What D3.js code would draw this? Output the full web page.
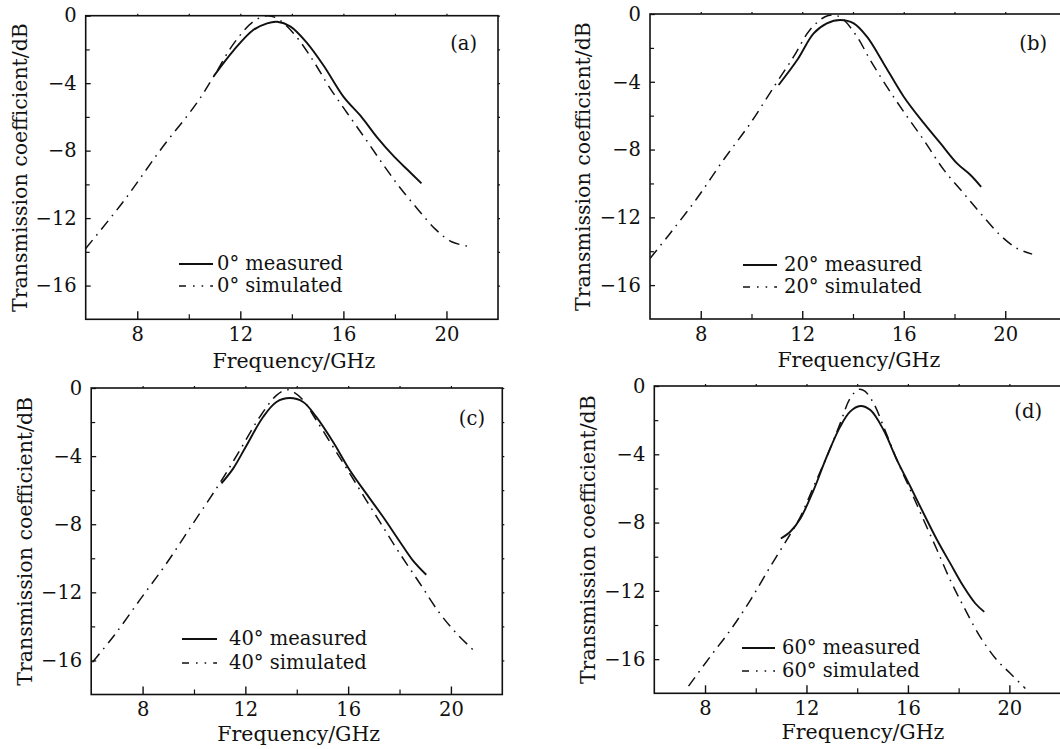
<!DOCTYPE html>
<html>
<head>
<meta charset="utf-8">
<script src="https://cdn.jsdelivr.net/npm/d3@7"></script>
<style>
  html, body { margin: 0; padding: 0; background: #fff; }
  svg { display: block; }
  text { font-family: "DejaVu Serif", "Liberation Serif", serif; fill: #111; }
</style>
</head>
<body>
<svg id="chart" width="1060" height="749"></svg>
<script>
// Transmission coefficient (dB) versus frequency (GHz) at four incidence angles.

const xTickValues = [8, 12, 16, 20];
const xMinorValues = [10, 14, 18];
const yTickValues = [0, -4, -8, -12, -16];
const yMinorValues = [-2, -6, -10, -14];
const angles = ["0°", "20°", "40°", "60°"];
const panelTags = ["(a)", "(b)", "(c)", "(d)"];

// 0 degrees
const sim0 = [[6,-13.8],[7.47,-11.0],[8.9,-7.96],[10.3,-5.2],[10.97,-3.6],[11.75,-1.64],[12.5,-0.36],[13.04,0],[13.43,-0.16],[14.07,-1.05],[14.8,-2.6],[15.44,-4.2],[16.16,-5.8],[16.9,-7.4],[17.6,-8.95],[18.2,-10.2],[18.9,-11.5],[19.6,-12.7],[20.2,-13.4],[20.93,-13.7]];
const meas0 = [[10.97,-3.58],[11.75,-2.04],[12.5,-0.85],[13.04,-0.45],[13.43,-0.36],[13.95,-0.65],[14.6,-1.64],[15.25,-3.0],[16.0,-4.8],[16.7,-6.0],[17.3,-7.2],[17.97,-8.36],[18.5,-9.15],[19.03,-9.94]];

// 20 degrees
const sim20 = [[6,-14.43],[6.79,-12.95],[7.84,-10.9],[8.9,-8.6],[9.95,-6.46],[10.93,-4.19],[11.66,-2.52],[12.3,-0.94],[12.9,-0.16],[13.24,-0.06],[13.57,-0.26],[14.16,-1.34],[14.68,-2.72],[15.34,-4.3],[16.0,-5.77],[16.79,-7.44],[17.58,-9.2],[18.37,-10.6],[19.03,-11.77],[19.8,-13.05],[20.47,-13.84],[21.06,-14.17]];
const meas20 = [[11.07,-4.19],[11.8,-2.72],[12.45,-1.14],[12.97,-0.55],[13.5,-0.35],[14.03,-0.55],[14.55,-1.34],[15.2,-2.9],[16.0,-4.88],[16.8,-6.46],[17.45,-7.64],[18.1,-8.82],[18.63,-9.5],[19.05,-10.2]];

// 40 degrees
const sim40 = [[6.05,-16.1],[6.87,-14.58],[7.9,-12.43],[8.94,-10.28],[9.97,-7.94],[11.0,-5.6],[11.79,-3.65],[12.56,-1.7],[13.21,-0.43],[13.6,-0.1],[13.86,-0.23],[14.25,-0.72],[14.76,-1.89],[15.41,-3.45],[16.06,-5.01],[16.7,-6.58],[17.35,-8.14],[18.0,-9.7],[18.78,-11.45],[19.55,-13.2],[20.2,-14.38],[20.85,-15.36]];
const meas40 = [[11.07,-5.6],[11.53,-4.72],[12.05,-3.36],[12.69,-1.7],[13.21,-0.82],[13.73,-0.59],[14.25,-0.82],[14.76,-1.7],[15.41,-3.16],[16.06,-4.82],[16.7,-6.19],[17.35,-7.55],[18.0,-9.0],[18.5,-10.09],[19.04,-10.97]];

// 60 degrees
const sim60 = [[7.35,-17.58],[8.2,-15.86],[9.0,-14.3],[9.79,-12.54],[10.57,-10.59],[11.3,-8.83],[11.76,-7.66],[12.28,-5.9],[12.8,-4.14],[13.33,-2.19],[13.72,-0.72],[14.06,-0.2],[14.3,-0.3],[14.65,-1.02],[15.04,-2.38],[15.57,-4.34],[16.1,-6.1],[16.62,-7.85],[17.15,-9.61],[17.67,-11.37],[18.2,-12.93],[18.85,-14.69],[19.51,-16.06],[20.04,-16.84],[20.63,-17.72]];
const meas60 = [[10.99,-8.93],[11.36,-8.54],[11.76,-7.76],[12.28,-6.1],[12.8,-4.14],[13.33,-2.38],[13.72,-1.5],[14.12,-1.17],[14.52,-1.41],[15.04,-2.58],[15.57,-4.34],[16.1,-5.9],[16.62,-7.47],[17.15,-9.02],[17.67,-10.39],[18.2,-11.76],[18.66,-12.74],[19.01,-13.23]];

const simulatedSeries = [sim0, sim20, sim40, sim60];
const measuredSeries = [meas0, meas20, meas40, meas60];

// Frame geometry of each panel (pixels) and the frequency span it covers.
const panels = [
  { left: 85.7, right: 498,  top: 15.7, bottom: 319.3, xMax: 22,
    yTitleX: 27,  xTitleY: 368, tagX: 477, tagY: 50,
    legend: { x1: 179, x2: 213, textX: 217, y1: 264, y2: 286 } },
  { left: 650,  right: 1063.6, top: 14, bottom: 319, xMax: 22.3,
    yTitleX: 590, xTitleY: 367, tagX: 1047, tagY: 50,
    legend: { x1: 743, x2: 777, textX: 784, y1: 265, y2: 287 } },
  { left: 91.2, right: 502.3, top: 388, bottom: 694.5, xMax: 22,
    yTitleX: 32,  xTitleY: 741, tagX: 485, tagY: 425,
    legend: { x1: 182, x2: 217, textX: 229, y1: 639, y2: 663 } },
  { left: 654.3, right: 1067.7, top: 386, bottom: 693.3, xMax: 22.3,
    yTitleX: 595, xTitleY: 739, tagX: 1042, tagY: 418,
    legend: { x1: 742, x2: 775, textX: 782, y1: 648, y2: 671 } }
];

const FONT = 19.5;
const SIM_DASH = "11,6,1.6,6";
const svg = d3.select("#chart");
const fmt = v => (v < 0 ? "\u2212" + Math.abs(v) : String(v));

panels.forEach((p, i) => {
  const x = d3.scaleLinear().domain([6, p.xMax]).range([p.left, p.right]);
  const y = d3.scaleLinear().domain([-18, 0]).range([p.bottom, p.top]);
  const g = svg.append("g");

  const clipId = "clip" + i;
  g.append("clipPath").attr("id", clipId)
    .append("rect").attr("x", p.left).attr("y", p.top - 4)
    .attr("width", p.right - p.left).attr("height", p.bottom - p.top + 4);

  // bottom axis: major ticks labelled, minor ticks shorter, both pointing inward
  const xAxis = g.append("g").attr("transform", `translate(0,${p.bottom})`)
    .call(d3.axisBottom(x).tickValues(xTickValues).tickSize(-8).tickPadding(8).tickFormat(fmt));
  xAxis.select(".domain").remove();
  xAxis.selectAll("text").attr("font-size", FONT).attr("font-family", "DejaVu Serif").attr("fill", "#111");
  xAxis.selectAll("line").attr("stroke", "#111").attr("stroke-width", 1.4);
  const xMinor = g.append("g").attr("transform", `translate(0,${p.bottom})`)
    .call(d3.axisBottom(x).tickValues(xMinorValues).tickSize(-5).tickFormat(""));
  xMinor.select(".domain").remove();
  xMinor.selectAll("line").attr("stroke", "#111").attr("stroke-width", 1.2);

  // left axis
  const yAxis = g.append("g").attr("transform", `translate(${p.left},0)`)
    .call(d3.axisLeft(y).tickValues(yTickValues).tickSize(-5).tickPadding(9).tickFormat(fmt));
  yAxis.select(".domain").remove();
  yAxis.selectAll("text").attr("font-size", FONT).attr("font-family", "DejaVu Serif").attr("fill", "#111");
  yAxis.selectAll("line").attr("stroke", "#111").attr("stroke-width", 1.3);
  const yMinor = g.append("g").attr("transform", `translate(${p.left},0)`)
    .call(d3.axisLeft(y).tickValues(yMinorValues).tickSize(-4).tickFormat(""));
  yMinor.select(".domain").remove();
  yMinor.selectAll("line").attr("stroke", "#111").attr("stroke-width", 1.2);

  // short mirror ticks on the top and right edges
  const topTicks = g.append("g").attr("transform", `translate(0,${p.top})`)
    .call(d3.axisTop(x).tickValues(xTickValues.concat(xMinorValues)).tickSize(2).tickFormat(""));
  topTicks.select(".domain").remove();
  topTicks.selectAll("line").attr("stroke", "#111").attr("stroke-width", 1.2);
  const rightTicks = g.append("g").attr("transform", `translate(${p.right},0)`)
    .call(d3.axisRight(y).tickValues(yTickValues.concat(yMinorValues)).tickSize(2).tickFormat(""));
  rightTicks.select(".domain").remove();
  rightTicks.selectAll("line").attr("stroke", "#111").attr("stroke-width", 1.2);

  // frame
  g.append("rect")
    .attr("x", p.left).attr("y", p.top)
    .attr("width", p.right - p.left).attr("height", p.bottom - p.top)
    .attr("fill", "none").attr("stroke", "#111").attr("stroke-width", 1.6);

  const line = d3.line()
    .x(d => x(d[0])).y(d => y(d[1]))
    .curve(d3.curveCatmullRom.alpha(0.5));

  const curves = g.append("g").attr("clip-path", `url(#${clipId})`);
  curves.append("path")
    .attr("d", line(simulatedSeries[i]))
    .attr("fill", "none").attr("stroke", "#111").attr("stroke-width", 1.5)
    .attr("stroke-dasharray", SIM_DASH);
  curves.append("path")
    .attr("d", line(measuredSeries[i]))
    .attr("fill", "none").attr("stroke", "#111").attr("stroke-width", 1.9);

  // axis titles
  g.append("text")
    .attr("transform", `translate(${p.yTitleX},${(p.top + p.bottom) / 2}) rotate(-90)`)
    .attr("text-anchor", "middle").attr("font-size", FONT + 1)
    .text("Transmission coefficient/dB");
  g.append("text")
    .attr("x", (p.left + p.right) / 2 + 2)
    .attr("y", p.xTitleY)
    .attr("text-anchor", "middle").attr("font-size", FONT + 1)
    .text("Frequency/GHz");

  // panel tag
  g.append("text").attr("x", p.tagX).attr("y", p.tagY)
    .attr("text-anchor", "end").attr("font-size", FONT)
    .text(panelTags[i]);

  // legend
  const L = p.legend;
  g.append("line").attr("x1", L.x1).attr("x2", L.x2).attr("y1", L.y1).attr("y2", L.y1)
    .attr("stroke", "#111").attr("stroke-width", 1.9);
  g.append("line").attr("x1", L.x1).attr("x2", L.x2).attr("y1", L.y2).attr("y2", L.y2)
    .attr("stroke", "#111").attr("stroke-width", 1.5)
    .attr("stroke-dasharray", "7,7,1.6,7,1.6,7,7");
  g.append("text").attr("x", L.textX).attr("y", L.y1 + 6).attr("font-size", FONT)
    .text(angles[i] + " measured");
  g.append("text").attr("x", L.textX).attr("y", L.y2 + 6).attr("font-size", FONT)
    .text(angles[i] + " simulated");
});
</script>
</body>
</html>
